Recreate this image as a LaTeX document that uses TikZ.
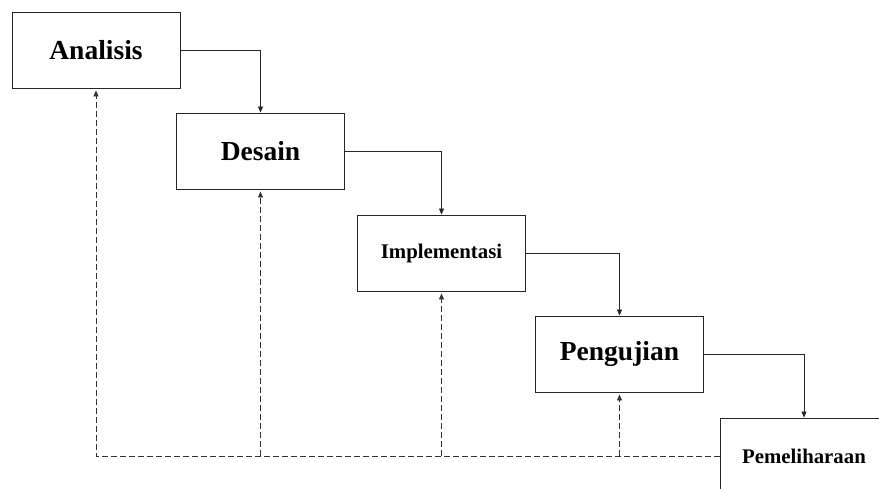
\documentclass[tikz,border=0pt]{standalone}
\usepackage{fontspec}
\setmainfont{Liberation Serif}
\usetikzlibrary{arrows.meta, positioning}

\begin{document}
\begin{tikzpicture}[
  x=1pt, y=-1pt,
  >={Triangle[length=6pt, width=5pt]},
  phase/.style={
    draw=black!85, fill=white, line width=0.9pt,
    minimum width=168pt, minimum height=76pt, align=center,
    font=\bfseries\fontsize{27.5}{32}\selectfont
  },
  phasesmall/.style={
    phase, font=\bfseries\fontsize{20.8}{25}\selectfont
  },
  arr/.style={->, line width=0.8pt, black!85},
  back/.style={->, line width=0.8pt, black!80, dash pattern=on 6pt off 3pt, shorten >=2pt},
]

\clip (0,0) rectangle (879,488);

% Phases
\node[phase]      (ana) at (96, 50)    {Analisis};
\node[phase]      (des) at (260.5, 151) {Desain};
\node[phasesmall] (imp) at (441.5, 253) {Implementasi};
\node[phase]      (uji) at (619.5, 354) {Pengujian};
\node[phasesmall] (pem) at (804, 456)  {Pemeliharaan};

% Flow arrows
\draw[arr] (ana.east) -| (des.north);
\draw[arr] (des.east) -| (imp.north);
\draw[arr] (imp.east) -| (uji.north);
\draw[arr] (uji.east) -| (pem.north);

% Feedback (dashed)
\draw[back] (pem.west) -| (ana.south);
\draw[back] (des.south |- pem.west) -- (des.south);
\draw[back] (imp.south |- pem.west) -- (imp.south);
\draw[back] (uji.south |- pem.west) -- (uji.south);

\end{tikzpicture}
\end{document}
